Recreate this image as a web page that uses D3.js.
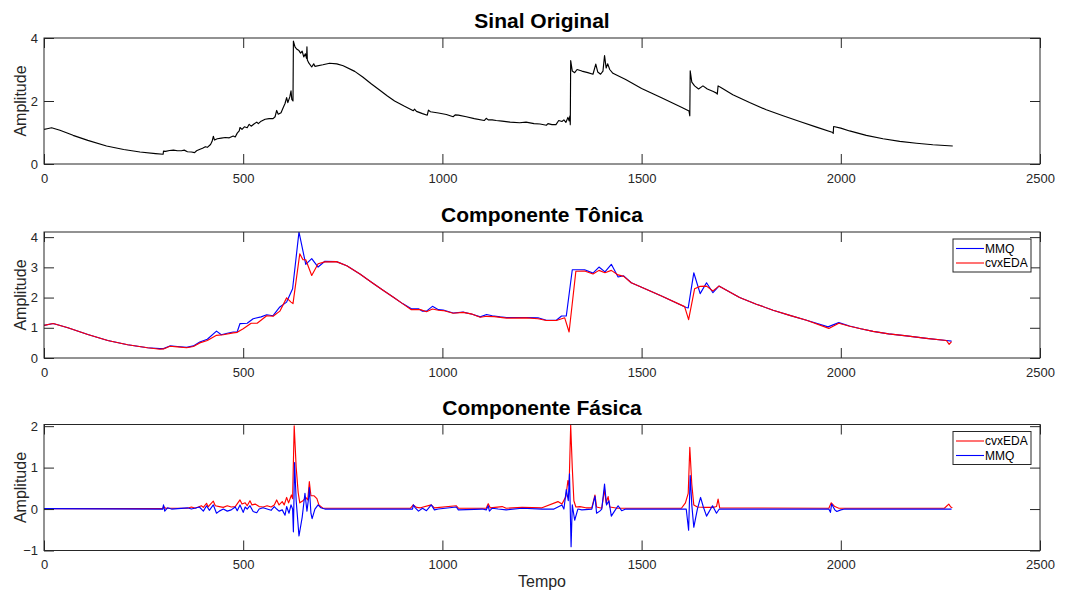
<!DOCTYPE html>
<html>
<head>
<meta charset="utf-8">
<script src="https://cdn.jsdelivr.net/npm/d3@7"></script>
<style>
  html, body { margin: 0; padding: 0; background: #fff; }
  svg { display: block; }
  text { font-family: "Liberation Sans", Arial, Helvetica, sans-serif; }
</style>
</head>
<body>
<svg id="chart" width="1065" height="597"></svg>
<script>
// ---------------- DATA ----------------
const xTicks = [0, 500, 1000, 1500, 2000, 2500];
const xDomain = [0, 2500];

const titles = ["Sinal Original", "Componente Tônica", "Componente Fásica"];
const yLabel = "Amplitude";
const xLabel = "Tempo";

const yDomain1 = [0, 4];
const yTicks1 = [0, 2, 4];
const yDomain2 = [0, 4.17];
const yTicks2 = [0, 1, 2, 3, 4];
const yDomain3 = [-1, 2.04];
const yTicks3 = [-1, 0, 1, 2];

// Original signal [time, amplitude]
const sinalOriginal = [[0,1.10],[8,1.12],[19,1.15],[40,1.07],[73,0.91],[110,0.75],[157,0.57],[200,0.46],[241,0.38],[280,0.33],[299,0.31],[300,0.41],[305,0.40],[315,0.43],[325,0.44],[335,0.42],[345,0.42],[352,0.44],[360,0.39],[370,0.38],[378,0.36],[383,0.42],[390,0.46],[398,0.50],[405,0.55],[410,0.53],[418,0.62],[422,0.72],[425,0.88],[428,0.76],[435,0.80],[445,0.82],[455,0.84],[465,0.83],[475,0.89],[480,0.86],[485,0.98],[490,1.05],[492,1.16],[497,1.10],[503,1.18],[510,1.15],[515,1.26],[520,1.20],[527,1.27],[534,1.33],[538,1.28],[545,1.36],[555,1.42],[565,1.44],[575,1.44],[580,1.50],[584,1.70],[588,1.58],[595,1.63],[600,1.78],[605,1.92],[609,2.11],[612,1.95],[617,2.13],[620,2.32],[622,2.05],[625,2.00],[626,3.90],[630,3.72],[634,3.65],[640,3.60],[644,3.52],[648,3.58],[652,3.40],[656,3.50],[659,3.35],[660,3.72],[661,3.30],[665,3.20],[672,3.08],[677,3.18],[680,3.10],[700,3.15],[717,3.20],[735,3.18],[751,3.12],[780,2.94],[800,2.76],[822,2.54],[843,2.34],[862,2.16],[880,2.00],[905,1.83],[927,1.69],[930,1.74],[935,1.67],[950,1.60],[962,1.55],[965,1.71],[970,1.66],[990,1.62],[1010,1.57],[1027,1.50],[1032,1.56],[1040,1.55],[1060,1.50],[1080,1.44],[1105,1.38],[1110,1.45],[1115,1.40],[1125,1.40],[1135,1.38],[1150,1.36],[1170,1.33],[1194,1.31],[1210,1.33],[1230,1.28],[1245,1.27],[1261,1.23],[1265,1.28],[1275,1.25],[1285,1.25],[1292,1.38],[1300,1.35],[1305,1.40],[1310,1.32],[1315,1.48],[1318,1.37],[1320,1.53],[1321,1.25],[1322,3.28],[1326,2.95],[1332,2.90],[1338,3.00],[1350,2.95],[1365,2.90],[1378,2.85],[1385,3.17],[1390,2.92],[1397,2.85],[1403,2.95],[1407,3.44],[1411,3.05],[1415,3.18],[1420,3.00],[1428,2.88],[1460,2.68],[1500,2.40],[1550,2.10],[1600,1.80],[1619,1.68],[1621,1.53],[1622,2.96],[1626,2.60],[1633,2.48],[1643,2.38],[1654,2.48],[1665,2.38],[1680,2.30],[1688,2.25],[1690,2.22],[1692,2.48],[1700,2.42],[1729,2.20],[1771,1.95],[1813,1.72],[1855,1.53],[1897,1.35],[1939,1.17],[1980,1.00],[1981,0.97],[1982,1.19],[2000,1.14],[2022,1.05],[2064,0.91],[2106,0.80],[2148,0.72],[2190,0.66],[2231,0.61],[2281,0.57]];

// Tonic component
const tonicaMMQ = [[0,1.08],[23,1.14],[60,1.00],[110,0.78],[160,0.58],[210,0.44],[260,0.34],[291,0.31],[300,0.31],[316,0.40],[335,0.38],[358,0.35],[375,0.40],[391,0.53],[410,0.62],[433,0.89],[445,0.77],[460,0.82],[475,0.86],[485,0.87],[492,1.14],[510,1.15],[525,1.30],[545,1.36],[559,1.43],[575,1.40],[592,1.69],[609,1.85],[624,2.29],[640,4.17],[657,3.10],[672,3.29],[688,3.01],[705,3.20],[734,3.19],[760,3.05],[793,2.78],[822,2.51],[851,2.24],[878,2.00],[900,1.80],[922,1.63],[940,1.63],[950,1.55],[960,1.55],[975,1.71],[990,1.60],[1002,1.59],[1027,1.49],[1052,1.52],[1075,1.45],[1095,1.36],[1111,1.44],[1125,1.40],[1145,1.36],[1161,1.34],[1211,1.34],[1240,1.33],[1261,1.25],[1286,1.25],[1299,1.39],[1311,1.39],[1326,2.92],[1357,2.92],[1378,2.81],[1393,3.01],[1408,2.85],[1424,3.10],[1441,2.68],[1455,2.72],[1474,2.49],[1500,2.34],[1550,2.05],[1612,1.67],[1617,1.66],[1631,2.82],[1647,2.13],[1663,2.49],[1679,2.16],[1694,2.38],[1746,2.00],[1788,1.78],[1830,1.58],[1872,1.41],[1914,1.25],[1968,1.03],[1995,1.17],[2022,1.06],[2050,0.97],[2081,0.88],[2120,0.80],[2165,0.73],[2215,0.65],[2265,0.58],[2278,0.56]];
const tonicaCvx = [[0,1.08],[23,1.14],[60,1.00],[110,0.78],[160,0.58],[210,0.44],[260,0.34],[291,0.29],[300,0.30],[316,0.39],[335,0.37],[358,0.34],[375,0.38],[391,0.50],[410,0.58],[433,0.75],[450,0.77],[475,0.83],[485,0.85],[500,0.97],[520,1.15],[535,1.15],[559,1.40],[575,1.38],[592,1.55],[609,1.99],[620,1.85],[625,1.80],[642,3.45],[650,3.25],[657,3.25],[672,2.73],[688,3.12],[705,3.18],[734,3.19],[760,3.05],[793,2.78],[822,2.51],[851,2.24],[878,2.00],[900,1.80],[922,1.60],[945,1.60],[960,1.53],[975,1.62],[990,1.58],[1002,1.57],[1027,1.48],[1052,1.51],[1075,1.45],[1095,1.35],[1111,1.38],[1130,1.37],[1161,1.32],[1211,1.33],[1240,1.30],[1261,1.24],[1286,1.24],[1307,1.33],[1318,0.86],[1335,2.87],[1357,2.88],[1378,2.78],[1393,2.90],[1408,2.82],[1424,2.90],[1441,2.75],[1455,2.70],[1474,2.49],[1500,2.34],[1550,2.05],[1608,1.70],[1618,1.27],[1633,2.29],[1647,2.37],[1663,2.38],[1679,2.22],[1694,2.38],[1746,2.00],[1788,1.78],[1830,1.58],[1872,1.41],[1914,1.25],[1970,0.98],[1995,1.15],[2022,1.05],[2050,0.97],[2081,0.88],[2120,0.80],[2165,0.73],[2215,0.65],[2265,0.58],[2272,0.45],[2278,0.54]];

// Phasic component
const fasicaCvx = [[0,0.01],[290,0.01],[298,0.01],[300,0.06],[305,0.02],[360,0.02],[370,0.05],[380,0.02],[395,0.08],[400,0.04],[408,0.14],[412,0.05],[418,0.12],[425,0.19],[430,0.08],[440,0.06],[450,0.04],[460,0.08],[470,0.05],[480,0.06],[492,0.22],[497,0.12],[505,0.15],[510,0.08],[517,0.20],[522,0.10],[530,0.12],[540,0.06],[550,0.05],[560,0.08],[570,0.05],[578,0.10],[584,0.22],[590,0.10],[598,0.18],[603,0.10],[609,0.28],[614,0.15],[621,0.34],[624,0.25],[628,2.01],[633,1.00],[638,0.40],[642,0.15],[650,0.20],[657,0.28],[662,0.22],[666,0.66],[670,0.32],[678,0.32],[685,0.25],[690,0.10],[700,0.02],[920,0.02],[927,0.10],[935,0.04],[945,0.03],[972,0.10],[980,0.03],[1035,0.08],[1040,0.02],[1110,0.02],[1115,0.13],[1120,0.03],[1150,0.06],[1160,0.02],[1200,0.04],[1250,0.03],[1290,0.18],[1300,0.12],[1310,0.30],[1315,0.69],[1318,0.55],[1322,2.03],[1326,1.00],[1330,0.20],[1335,0.05],[1345,0.06],[1360,0.03],[1375,0.03],[1383,0.34],[1387,0.05],[1400,0.02],[1407,0.47],[1411,0.15],[1416,0.30],[1420,0.05],[1440,0.02],[1600,0.02],[1610,0.15],[1617,0.38],[1621,1.49],[1626,0.60],[1631,0.10],[1640,0.05],[1660,0.04],[1680,0.04],[1688,0.06],[1692,0.24],[1696,0.03],[1970,0.02],[1976,0.15],[1985,0.06],[1995,0.02],[2260,0.02],[2271,0.12],[2276,0.05],[2280,0.03]];
const fasicaMMQ = [[0,0.01],[298,0.00],[300,0.10],[303,-0.05],[310,0.03],[320,0.00],[360,0.03],[370,0.00],[390,0.05],[400,-0.05],[408,0.08],[415,-0.03],[425,0.10],[433,-0.10],[440,-0.05],[450,0.00],[460,-0.05],[470,-0.02],[480,0.05],[485,-0.04],[492,0.10],[500,-0.08],[505,0.05],[510,0.00],[517,0.08],[525,-0.06],[534,-0.09],[540,0.00],[550,0.03],[560,0.00],[570,-0.03],[578,0.06],[584,0.00],[590,-0.05],[598,-0.02],[605,-0.15],[609,0.06],[615,-0.10],[620,0.10],[624,0.00],[626,-0.55],[629,1.12],[633,0.20],[640,-0.65],[648,-0.20],[655,0.38],[660,-0.05],[664,0.25],[666,0.52],[670,-0.10],[673,-0.23],[680,0.00],[688,0.10],[695,0.03],[705,0.00],[925,0.00],[927,0.10],[932,0.03],[940,-0.05],[950,0.02],[960,-0.04],[972,0.10],[980,-0.02],[990,0.00],[1035,0.05],[1040,-0.02],[1100,0.00],[1110,-0.02],[1115,0.08],[1118,-0.05],[1125,0.02],[1140,0.00],[1160,-0.02],[1200,0.02],[1250,0.00],[1280,0.00],[1290,0.05],[1300,0.10],[1305,0.00],[1311,0.47],[1316,0.20],[1319,0.85],[1323,-0.91],[1326,0.10],[1332,-0.27],[1340,0.00],[1350,-0.02],[1375,0.00],[1383,0.31],[1387,-0.10],[1395,-0.05],[1400,0.00],[1407,0.60],[1412,0.10],[1418,0.20],[1424,-0.17],[1432,-0.05],[1441,0.08],[1450,-0.04],[1460,0.00],[1600,0.00],[1612,0.00],[1618,-0.51],[1622,0.81],[1626,0.10],[1631,-0.44],[1640,0.00],[1648,0.28],[1655,0.05],[1663,-0.17],[1678,0.08],[1688,-0.10],[1695,0.00],[1970,0.00],[1974,-0.08],[1977,0.12],[1985,-0.02],[1990,-0.06],[2000,-0.02],[2010,0.00],[2278,0.00]];

const legendTonica = ["MMQ", "cvxEDA"];
const legendFasica = ["cvxEDA", "MMQ"];

// ---------------- LAYOUT ----------------
const W = 1065, H = 597;
const left = 44, right = 1040;
const panelH = 126;
const tops = [38, 232, 424.5];
const axisColor = "#262626";

const svg = d3.select("#chart");
svg.append("rect").attr("width", W).attr("height", H).attr("fill", "#fff");

const x = d3.scaleLinear().domain(xDomain).range([0, right - left]);
const colorOf = { "MMQ": "#0000ff", "cvxEDA": "#ff0000" };

const panels = [
  { title: titles[0], yDomain: yDomain1, yTicks: yTicks1, series: [{ data: sinalOriginal, color: "#000000" }], legend: null },
  { title: titles[1], yDomain: yDomain2, yTicks: yTicks2,
    series: [{ data: tonicaMMQ, color: colorOf["MMQ"] }, { data: tonicaCvx, color: colorOf["cvxEDA"] }],
    legend: legendTonica },
  { title: titles[2], yDomain: yDomain3, yTicks: yTicks3,
    series: [{ data: fasicaCvx, color: colorOf["cvxEDA"] }, { data: fasicaMMQ, color: colorOf["MMQ"] }],
    legend: legendFasica }
];

panels.forEach((p, i) => {
  const g = svg.append("g").attr("transform", `translate(${left},${tops[i]})`);
  const w = right - left;
  const y = d3.scaleLinear().domain(p.yDomain).range([panelH, 0]);

  const clipId = "clip" + i;
  g.append("clipPath").attr("id", clipId)
    .append("rect").attr("x", 0).attr("y", 0).attr("width", w).attr("height", panelH);

  const line = d3.line().x(d => x(d[0])).y(d => y(d[1]));
  const lines = g.append("g").attr("clip-path", `url(#${clipId})`);
  p.series.forEach(s => {
    lines.append("path").datum(s.data)
      .attr("fill", "none").attr("stroke", s.color)
      .attr("stroke-width", 1.15).attr("stroke-linejoin", "round")
      .attr("d", line);
  });

  function styleAxis(sel) {
    sel.select(".domain").remove();
    sel.selectAll(".tick line").attr("stroke", axisColor).attr("stroke-width", 1);
    sel.selectAll(".tick text").attr("fill", axisColor).style("font-size", "13px")
      .style("font-family", "'Liberation Sans', Arial, Helvetica, sans-serif");
  }

  g.append("g").attr("transform", `translate(0,${panelH})`)
    .call(d3.axisBottom(x).tickValues(xTicks).tickSize(-10).tickPadding(9.5).tickFormat(d3.format("d")))
    .call(styleAxis);
  g.append("g")
    .call(d3.axisTop(x).tickValues(xTicks).tickSize(-10).tickFormat(""))
    .call(styleAxis);
  g.append("g")
    .call(d3.axisLeft(y).tickValues(p.yTicks).tickSize(-10).tickPadding(6).tickFormat(d3.format("d")))
    .call(styleAxis);
  g.append("g").attr("transform", `translate(${w},0)`)
    .call(d3.axisRight(y).tickValues(p.yTicks).tickSize(-10).tickFormat(""))
    .call(styleAxis);

  g.append("rect").attr("x", 0).attr("y", 0).attr("width", w).attr("height", panelH)
    .attr("fill", "none").attr("stroke", axisColor).attr("stroke-width", 1);

  // title
  g.append("text").attr("x", w / 2).attr("y", -10)
    .attr("text-anchor", "middle").attr("fill", "#000")
    .style("font-size", "21px").style("font-weight", "bold").text(p.title);

  // y label
  g.append("text")
    .attr("transform", `translate(${-18},${panelH / 2}) rotate(-90)`)
    .attr("text-anchor", "middle").attr("fill", axisColor)
    .style("font-size", "16px").text(yLabel);

  // legend
  if (p.legend) {
    const lx = 953 - left, ly = (i === 1 ? 239 : 431.5) - tops[i];
    const lg = g.append("g").attr("transform", `translate(${lx},${ly})`);
    lg.append("rect").attr("x", 0).attr("y", 0).attr("width", 78).attr("height", 33)
      .attr("fill", "#fff").attr("stroke", axisColor).attr("stroke-width", 1);
    p.legend.forEach((name, k) => {
      const ry = 9.5 + k * 14.5;
      lg.append("line").attr("x1", 3).attr("x2", 31).attr("y1", ry).attr("y2", ry)
        .attr("stroke", colorOf[name]).attr("stroke-width", 1.1);
      lg.append("text").attr("x", 32).attr("y", ry).attr("dy", "0.35em")
        .attr("fill", "#000").style("font-size", "12px").text(name);
    });
  }

  if (i === 2) {
    g.append("text").attr("x", w / 2).attr("y", panelH + 36)
      .attr("text-anchor", "middle").attr("fill", axisColor)
      .style("font-size", "16px").text(xLabel);
  }
});
</script>
</body>
</html>
